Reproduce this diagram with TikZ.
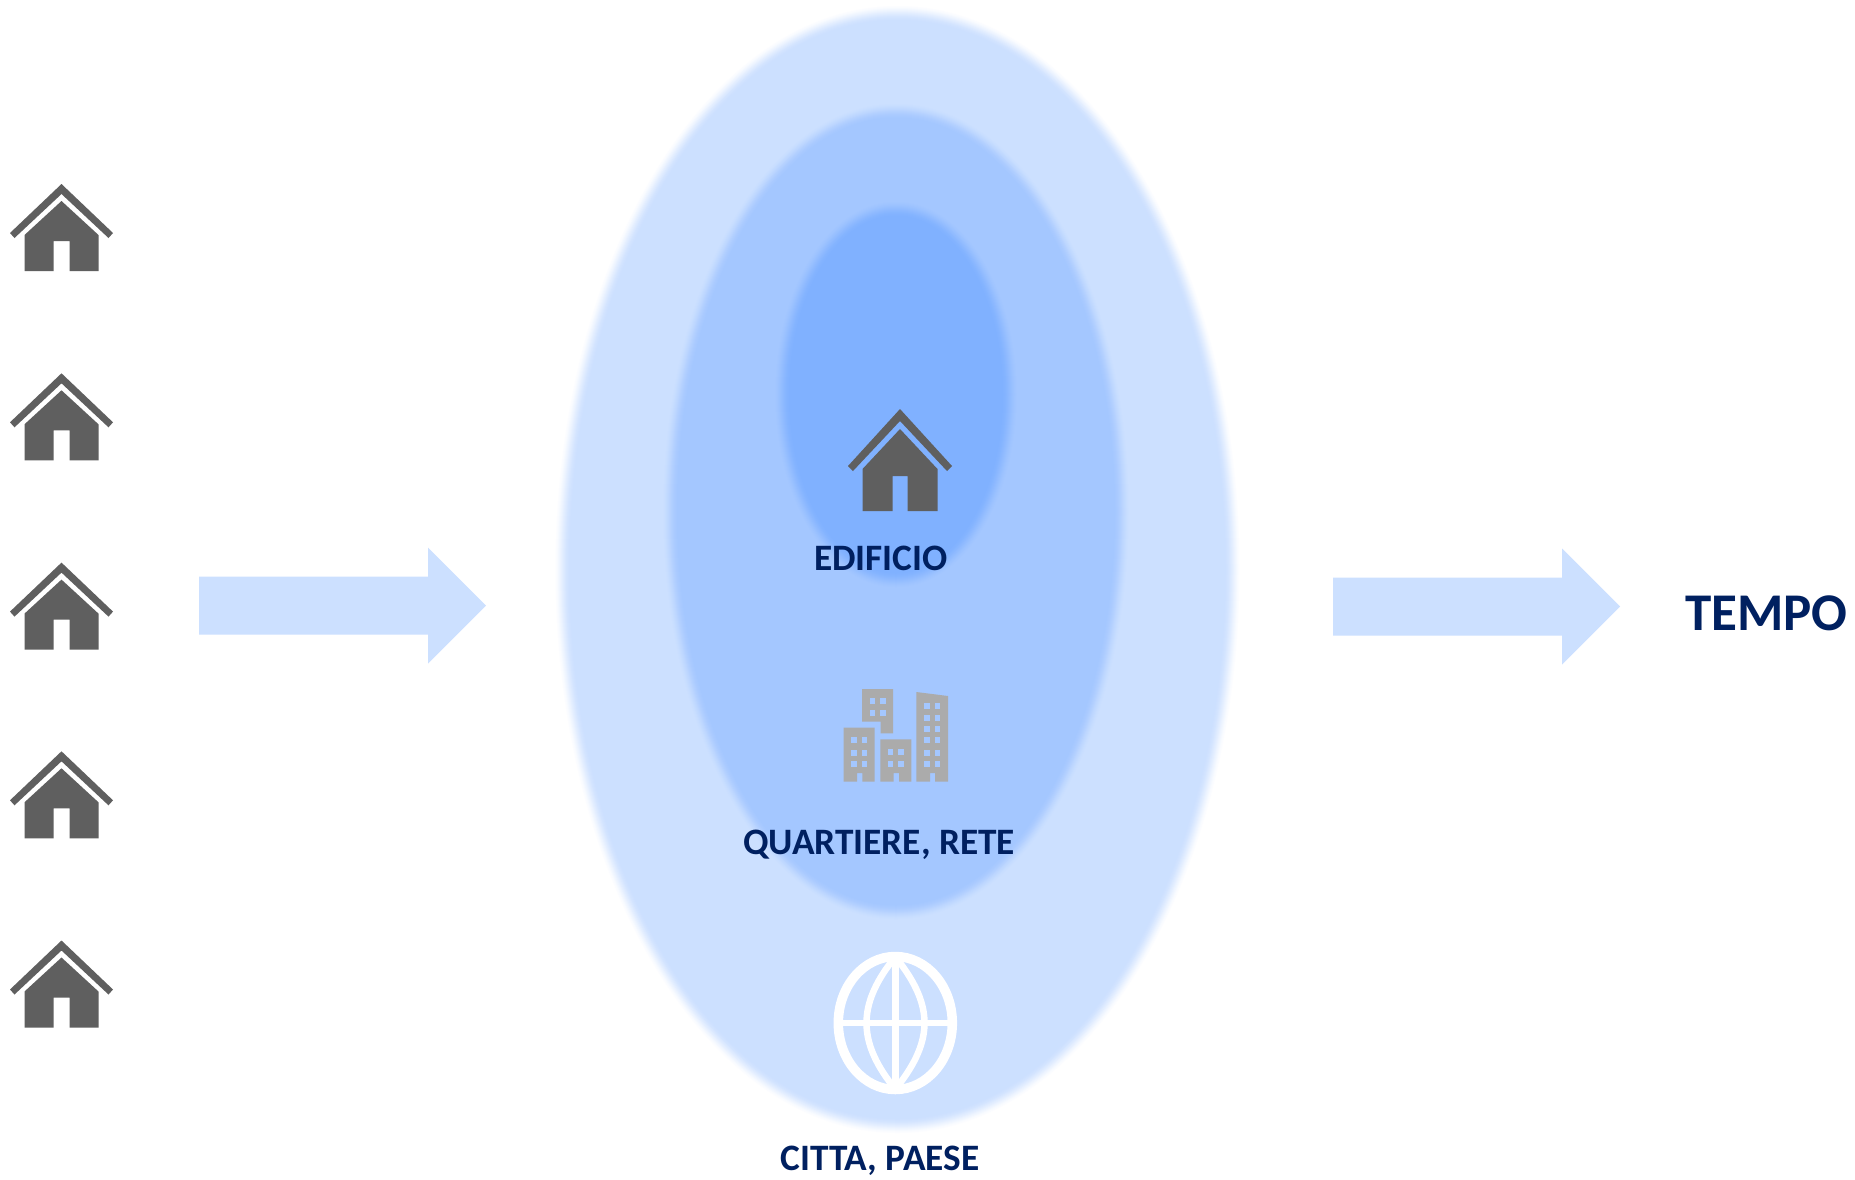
\documentclass[tikz,border=0pt]{standalone}
\usepackage{fontspec}
\setmainfont{Carlito}
\definecolor{pale}{HTML}{CCE0FF}
\definecolor{mid}{HTML}{A4C7FF}
\definecolor{deep}{HTML}{80B1FF}
\definecolor{navy}{HTML}{002060}
\definecolor{housegrey}{HTML}{5F5F5F}
\definecolor{blockgrey}{HTML}{ABABAB}
\tikzset{
  lbl/.style={text=navy,font=\bfseries\fontsize{37.3}{40}\selectfont,inner sep=0pt,anchor=center},
  bigarrow/.style={fill=pale,draw=none},
  hs/.style={fill=housegrey,draw=none},
  bk/.style={fill=blockgrey,draw=none},
  globeline/.style={draw=white,line width=6.5pt}
}
% soft-edged ellipse: #1 outer colour, #2 inner colour, #3 cx,#4 cy,#5 rx,#6 ry
\newcommand{\softell}[6]{%
  \foreach \d/\m in {8/5,7/10,6/17,5/25,4/33,3/41,2/50,1/59,0/67,-1/75,-2/82,-3/88,-4/93,-5/97,-6/100}{%
    \fill[#2!\m!#1] (#3,#4) ellipse [x radius=#5+\d,y radius=#6+\d];}}
\newcommand{\housepic}[2]{%
  \begin{scope}[shift={(#1,#2)}]
    \fill[hs] (0,0) -- (51.5,49) -- (47,54) -- (0,10) -- (-47,54) -- (-51.5,49) -- cycle;
    \fill[hs] (0,17) -- (37,51) -- (37,87) -- (8,87) -- (8,57) -- (-8,57) -- (-8,87) -- (-37,87) -- (-37,51) -- cycle;
  \end{scope}}
\newcommand{\bigarr}[2]{%
  \fill[bigarrow] (#1,#2-29) -- (#1+229,#2-29) -- (#1+229,#2-58) -- (#1+287,#2) -- (#1+229,#2+58) -- (#1+229,#2+29) -- (#1,#2+29) -- cycle;}
\newcommand{\winds}[2]{%
  \foreach \wx in {#1}{\foreach \wy in {#2}{\fill[mid] (\wx,\wy) rectangle ++(5.5,6);}}}
\begin{document}
\begin{tikzpicture}[x=1pt,y=-1pt]
\useasboundingbox (0,0) rectangle (1855,1179);
\fill[white] (0,0) rectangle (1855,1179);
% ellipses
\softell{white}{pale}{897.5}{569.5}{334}{555.5}
\softell{pale}{mid}{896}{511.5}{224.5}{399.5}
\softell{mid}{deep}{896}{394.5}{112.5}{184.5}
% arrows
\bigarr{199}{605.5}
\bigarr{1333}{606.5}
% houses
\housepic{61.5}{184}
\housepic{61.5}{373.3}
\housepic{61.5}{562.6}
\housepic{61.5}{751.3}
\housepic{61.5}{940.5}
\begin{scope}[shift={(900,409)}]
  \fill[hs] (0,0) -- (52,57) -- (47,62) -- (0,12) -- (-47,62) -- (-52,57) -- cycle;
  \fill[hs] (0,20) -- (37.5,60) -- (37.5,102) -- (7.5,102) -- (7.5,67) -- (-7.5,67) -- (-7.5,102) -- (-37.5,102) -- (-37.5,60) -- cycle;
\end{scope}
% buildings
\fill[bk] (862,689) -- (893,689) -- (893,733.3) -- (880.7,733.3) -- (880.7,721.7) -- (862,721.7) -- cycle;
\fill[bk] (843.7,727.7) -- (874.7,727.7) -- (874.7,781.7) -- (862.3,781.7) -- (862.3,773) -- (857,773) -- (857,781.7) -- (843.7,781.7) -- cycle;
\fill[bk] (880.3,739.3) -- (911.3,739.3) -- (911.3,781.7) -- (899,781.7) -- (899,773) -- (893.7,773) -- (893.7,781.7) -- (880.3,781.7) -- cycle;
\fill[bk] (916.3,692) -- (948,696) -- (948,781.7) -- (935,781.7) -- (935,773) -- (930,773) -- (930,781.7) -- (916.3,781.7) -- cycle;
\winds{869.7,880}{697.5,710}
\winds{851.3,861.7}{737,749.5,761}
\winds{887.7,898}{749,761}
\winds{924,934.5}{702.5,714.5,725.5,737,749.5,761}
% globe
\draw[white,line width=9.5pt] (895.3,1023) ellipse [x radius=57,y radius=66.5];
\draw[globeline] (895.3,960) -- (895.3,1086);
\draw[globeline] (842,1023) -- (948,1023);
\draw[globeline] (892,961) .. controls (875,983) and (866.5,1003) .. (866.5,1023) .. controls (866.5,1043) and (875,1063) .. (892,1085);
\draw[globeline] (898.6,961) .. controls (915.6,983) and (924.5,1003) .. (924.5,1023) .. controls (924.5,1043) and (915.6,1063) .. (898.6,1085);
% labels
\node[lbl] (edificio) at (881,558.5) {EDIFICIO};
\node[lbl] (quartiere) at (879,845) {QUARTIERE, RETE};
\node[lbl] (citta) at (880,1160.5) {CITTA, PAESE};
\node[lbl,font=\bfseries\fontsize{53}{56}\selectfont] (tempo) at (1766.5,613) {TEMPO};
\end{tikzpicture}
\end{document}
